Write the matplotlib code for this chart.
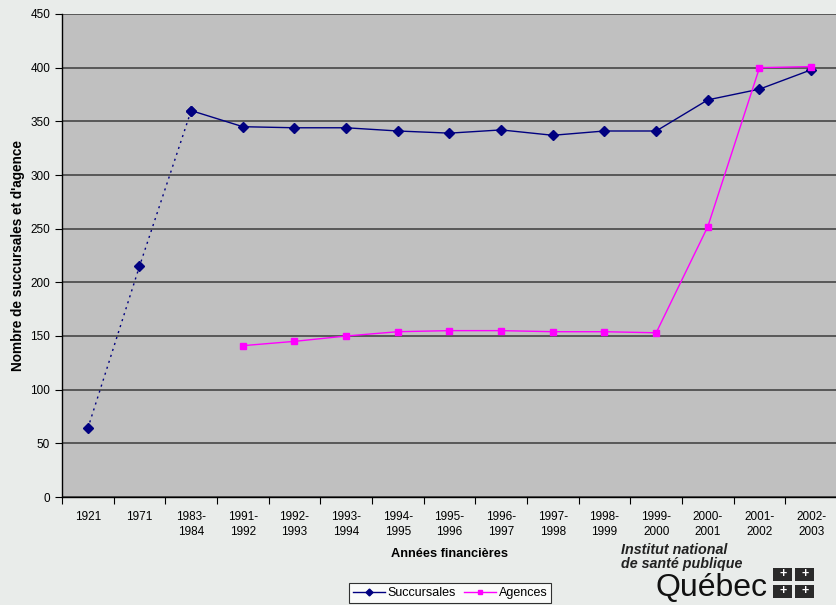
import matplotlib.pyplot as plt
from matplotlib.patches import Rectangle

plt.rcParams['font.family'] = ['Liberation Sans', 'DejaVu Sans']

annees = ['1921', '1971', '1983-\n1984', '1991-\n1992', '1992-\n1993', '1993-\n1994',
          '1994-\n1995', '1995-\n1996', '1996-\n1997', '1997-\n1998', '1998-\n1999',
          '1999-\n2000', '2000-\n2001', '2001-\n2002', '2002-\n2003']
succursales = [64, 215, 360, 345, 344, 344, 341, 339, 342, 337, 341, 341, 370, 380, 398]
agences = [None, None, None, 141, 145, 150, 154, 155, 155, 154, 154, 153, 252, 400, 401]

x = list(range(len(annees)))
bleu = '#000080'
rose = '#ff00ff'

fig = plt.figure(figsize=(8.37, 6.05), dpi=100, facecolor='#e9ecea')
ax = fig.add_axes([62 / 837, 108 / 605, 775 / 837, 483 / 605])
ax.set_facecolor('#c0c0c0')

# premières années : segments pointillés (données espacées)
ax.plot(x[:3], succursales[:3], color=bleu, lw=1.0, ls=(0, (1.5, 3)))
ax.plot(x[:3], succursales[:3], color=bleu, lw=0, marker='D', ms=5)
ax.plot(x[2:], succursales[2:], color=bleu, lw=1.0, marker='D', ms=5,
        label='Succursales')
ax.plot(x[3:], agences[3:], color=rose, lw=1.0, marker='s', ms=5,
        label='Agences')

ax.set_xlim(-0.5, len(annees) - 0.5)
ax.set_ylim(0, 450)
ax.set_yticks(range(0, 451, 50))
ax.yaxis.grid(True, color='#505050', lw=1.3)
ax.set_axisbelow(True)
ax.set_xticks([i - 0.5 for i in range(len(annees) + 1)], [''] * (len(annees) + 1))
ax.set_xticks(x, annees, minor=True)
ax.tick_params(axis='x', which='minor', length=0, pad=10, labelsize=8.5)
ax.tick_params(axis='x', which='major', length=5, direction='out')
ax.tick_params(axis='y', length=5, direction='out', labelsize=8.5)
for lbl in ax.get_xticklabels(minor=True):
    lbl.set_linespacing(1.4)
ax.spines['top'].set_visible(False)
ax.spines['right'].set_visible(False)
ax.spines['left'].set_linewidth(1.0)
ax.spines['bottom'].set_linewidth(1.0)

ax.set_xlabel('Années financières', fontsize=9.2, fontweight='bold', labelpad=7)
ax.set_ylabel("Nombre de succursales et d'agence", fontsize=9.8, fontweight='bold')
ax.yaxis.set_label_coords(-37 / 775, 0.5)

leg = ax.legend(loc='center', bbox_to_anchor=(450 / 837, 1 - 593 / 605),
                bbox_transform=fig.transFigure, ncol=2, fontsize=9,
                frameon=True, fancybox=False, edgecolor='black', handlelength=2.6,
                handletextpad=0.2, columnspacing=0.6, borderpad=0.3,
                borderaxespad=0, markerscale=0.7)
leg.get_frame().set_facecolor('white')
leg.get_frame().set_linewidth(0.8)

# logo de l'INSPQ
fig.text(621 / 837, 1 - 557 / 605, 'Institut national\nde santé publique',
         fontsize=10.3, fontweight='bold', style='italic', color='#222222',
         ha='left', va='center', linespacing=1.05)
fig.text(656 / 837, 1 - 588 / 605, 'Québec', fontsize=23, color='#111111',
         ha='left', va='center')
for cx, cy in [(783, 574), (805, 574), (783, 591), (805, 591)]:
    fig.patches.append(Rectangle(((cx - 9.5) / 837, 1 - (cy + 6.5) / 605), 19 / 837,
                                 13 / 605, transform=fig.transFigure,
                                 facecolor='#2a2a2a', edgecolor='none'))
    fig.text(cx / 837, 1 - cy / 605, '+', color='white', fontsize=9,
             fontweight='bold', ha='center', va='center')

fig.savefig('out.png', dpi=100, facecolor=fig.get_facecolor())
